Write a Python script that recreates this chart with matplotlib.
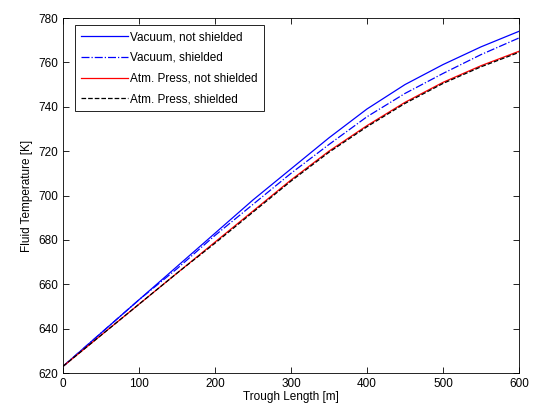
import matplotlib
matplotlib.use("Agg")
import matplotlib.pyplot as plt

plt.rcParams['font.family'] = ['Liberation Sans', 'DejaVu Sans']

trough_length = [0, 50, 100, 150, 200, 250, 300, 350, 400, 450, 500, 550, 600]
vac_not_shielded = [623, 638, 653, 668, 683, 698, 712, 726, 739, 750, 759, 767, 774]
vac_shielded = [623, 638, 653, 667, 682, 696, 710, 723, 735.5, 746, 755, 763.5, 771]
atm_not_shielded = [623, 637, 651, 665, 679, 693, 707, 720, 731.5, 742, 751, 758.5, 765]
atm_shielded = [623, 637, 651, 665, 678.5, 692.5, 706.5, 719.5, 731, 741.5, 750.5, 758, 764.5]

labels = ["Vacuum, not shielded", "Vacuum, shielded",
          "Atm. Press, not shielded", "Atm. Press, shielded"]
x_ticks = [0, 100, 200, 300, 400, 500, 600]
y_ticks = [620, 640, 660, 680, 700, 720, 740, 760, 780]

fig = plt.figure(figsize=(5.33, 4.12), dpi=100)
ax = fig.add_axes([63/533, 1-373/412, (519-63)/533, (373-18)/412])

ax.plot(trough_length, vac_not_shielded, color=(0, 0, 1), lw=0.9, label=labels[0])
ax.plot(trough_length, vac_shielded, color=(0, 0, 1), lw=0.9, ls='-.', label=labels[1])
ax.plot(trough_length, atm_not_shielded, color=(1, 0, 0), lw=0.9, label=labels[2])
ax.plot(trough_length, atm_shielded, color='black', lw=0.9, ls='--', label=labels[3])

ax.set_xlim(0, 600)
ax.set_ylim(620, 780)
ax.set_xticks(x_ticks)
ax.set_yticks(y_ticks)
ax.tick_params(direction='in', top=True, right=True, labelsize=8.5, length=4, width=0.6)
for s in ax.spines.values():
    s.set_linewidth(0.6)
ax.set_xlabel("Trough Length [m]", fontsize=8.5, labelpad=1)
ax.set_ylabel("Fluid Temperature [K]", fontsize=8.5, labelpad=4)

leg = ax.legend(loc='upper left', bbox_to_anchor=(0.026, 0.98), borderaxespad=0,
                fontsize=8.5, handlelength=4, labelspacing=0.75, handletextpad=0.2,
                fancybox=False, edgecolor='black', framealpha=1, borderpad=0.5)
leg.get_frame().set_linewidth(0.6)

fig.savefig("out.png", dpi=100)
